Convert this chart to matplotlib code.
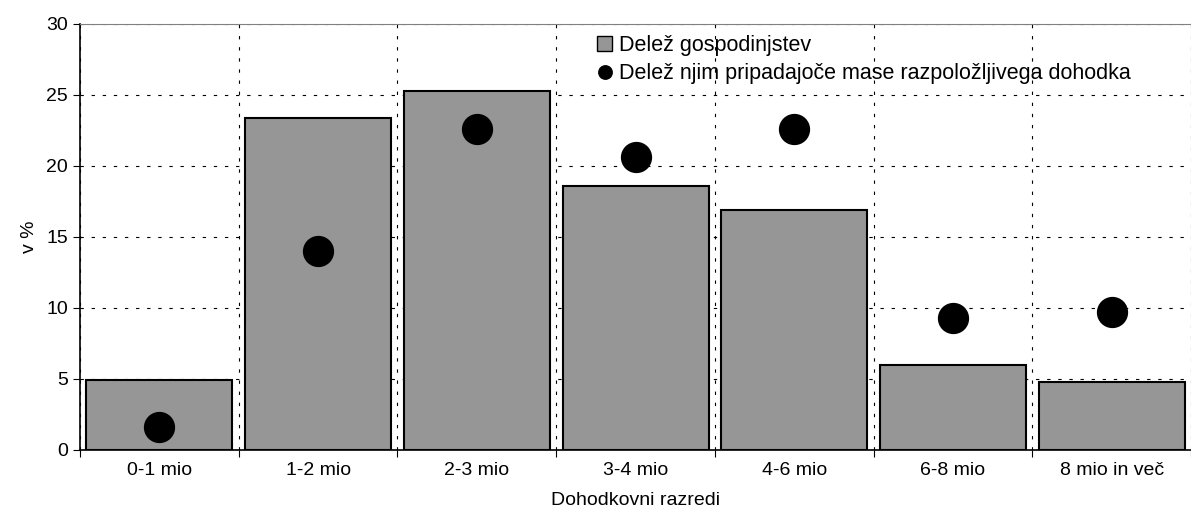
import numpy as np
import matplotlib.pyplot as plt

plt.rcParams['font.family'] = ['Liberation Sans', 'DejaVu Sans']

categories = ['0-1 mio', '1-2 mio', '2-3 mio', '3-4 mio', '4-6 mio', '6-8 mio', '8 mio in več']
households = [4.9, 23.4, 25.3, 18.6, 16.9, 6.0, 4.8]
income = [1.6, 14.0, 22.6, 20.6, 22.6, 9.3, 9.7]

fig = plt.figure(figsize=(11.91, 5.16), dpi=100)
ax = fig.add_axes([0.0672, 0.128, 0.9328, 0.8255])

x = np.arange(len(categories))
bars = ax.bar(x, households, width=0.92, color='#969696', edgecolor='black', linewidth=1.5,
              label='Delež gospodinjstev', zorder=2)
dots, = ax.plot(x, income, 'o', color='black', markersize=21.5, linestyle='none',
                label='Delež njim pripadajoče mase razpoložljivega dohodka', zorder=3)

ax.set_xlim(-0.5, len(categories) - 0.5)
ax.set_ylim(0, 30)
ax.set_yticks(range(0, 31, 5))

# tick marks on boundaries, labels in the middle
ax.set_xticks(np.arange(-0.5, len(categories), 1.0))
ax.set_xticklabels([])
ax.set_xticks(x, minor=True)
ax.set_xticklabels(categories, minor=True)
ax.tick_params(axis='x', which='minor', length=0, pad=9, labelsize=14)
ax.tick_params(axis='x', which='major', length=5, direction='out')
ax.tick_params(axis='y', length=5, direction='out', labelsize=14)

ax.grid(True, which='major', linestyle=(0, (3, 7)), color='black', linewidth=0.8, zorder=0)
ax.set_axisbelow(True)

ax.spines['top'].set_color('#808080')
ax.spines['right'].set_visible(False)
ax.spines['left'].set_linewidth(1.2)
ax.spines['bottom'].set_linewidth(1.2)

ax.set_xlabel('Dohodkovni razredi', fontsize=14, labelpad=9)
ax.set_ylabel('v %', fontsize=14, labelpad=6)

leg = ax.legend([bars, dots], [bars.get_label(), dots.get_label()],
                loc='upper left', bbox_to_anchor=(0.452, 1.01), frameon=False, fontsize=15.5,
                handlelength=0.7, handletextpad=0.3, labelspacing=0.35, markerscale=0.45,
                borderaxespad=0.3)
leg.legend_handles[0].set_linewidth(1.0)

fig.savefig('out.png', dpi=100)
